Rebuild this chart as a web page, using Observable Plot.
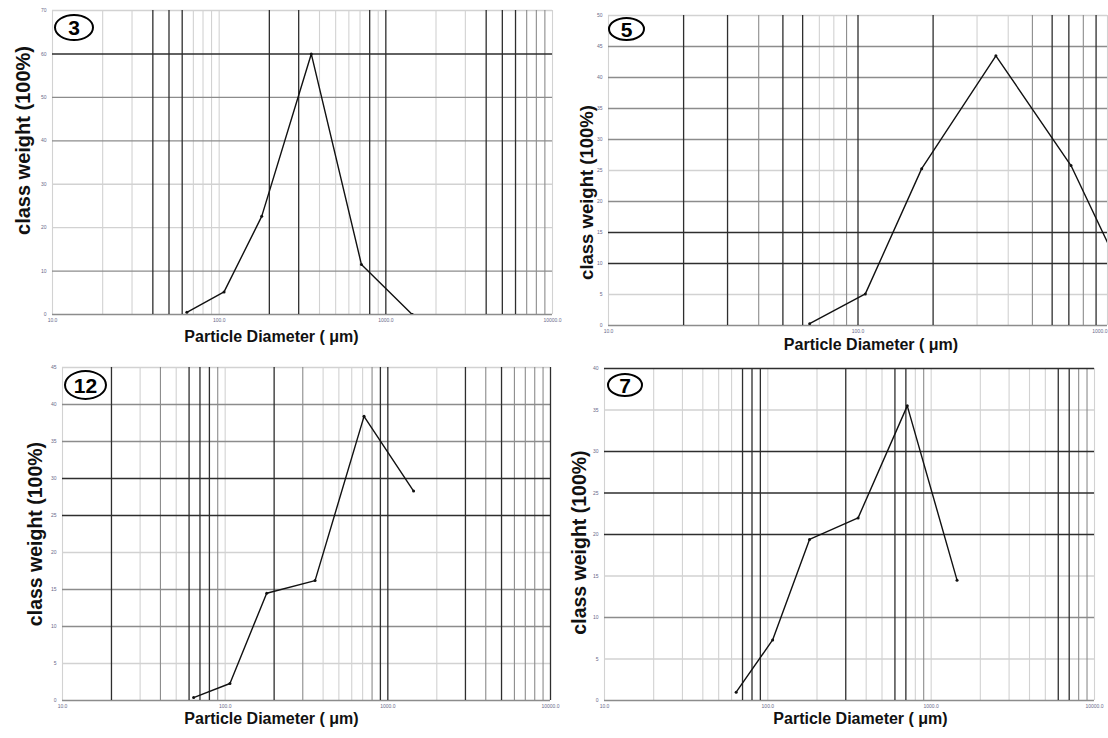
<!DOCTYPE html>
<html><head><meta charset="utf-8">
<script src="https://cdn.jsdelivr.net/npm/d3@7"></script>
<script src="https://cdn.jsdelivr.net/npm/@observablehq/plot@0.6"></script>
<style>
body{margin:0;background:#fff;}
#wrap{position:relative;width:1108px;height:738px;overflow:hidden;font-family:"Liberation Sans",Arial,sans-serif;background:#fff;}
.panel{position:absolute;}
.badge{position:absolute;border:2.6px solid #000;border-radius:50%;box-sizing:border-box;display:flex;align-items:center;justify-content:center;font-weight:bold;font-size:21px;line-height:1;color:#000;font-family:"Liberation Sans",Arial,sans-serif;}
</style></head><body><div id="wrap"></div>
<script>
// Sieve class sizes (µm) shared by all four samples
const sieveSizes = [64, 107, 180, 357, 714, 1440];
// Class weights (%) per sample
const weight3 = [0.5, 5.2, 22.6, 60, 11.5, 0];
const weight5 = [0.3, 5.1, 25.3, 43.5, 25.8, 0];
const weight12 = [0.4, 2.3, 14.5, 16.2, 38.4, 28.3];
const weight7 = [1.0, 7.3, 19.4, 22.0, 35.5, 14.5];
// Panel labels
const sampleIds = ["3", "5", "12", "7"];
const xTickLabels = [10, 100, 1000, 10000];
const xTitle = "Particle Diameter ( μm)";
const yTitle = "class weight (100%)";
// Gridlines that print dark / medium in each panel (the rest are light)
const darkX3 = [40, 50, 60, 200, 300, 800, 1000, 4000, 5000, 6000];
const medX3 = [7000, 8000, 9000];
const darkY3 = [60];
const medY3 = [0, 10, 40, 50];
const darkX5 = [20, 30, 50, 60, 100, 200, 600, 700, 900];
const medX5 = [40, 90, 500, 800];
const darkY5 = [10, 15];
const medY5 = [0, 20, 30, 35, 40, 45];
const darkX12 = [20, 60, 70, 80, 200, 900, 1000, 3000, 5000, 10000];
const medX12 = [40, 90, 300, 800, 4000, 6000, 7000, 8000, 9000];
const darkY12 = [25, 30];
const medY12 = [0, 10, 15, 35, 40];
const darkX7 = [70, 80, 90, 300, 600, 700, 6000, 7000];
const medX7 = [900, 8000, 9000];
const darkY7 = [20, 25, 30, 40];
const medY7 = [0, 10];

const panels = [
  {id: sampleIds[0], w: weight3, xMax: 10000, yMax: 70, yStep: 10, darkX: darkX3, medX: medX3, darkY: darkY3, medY: medY3,
   left: 0, top: 0, width: 554, height: 354, mL: 52, mR: 2, mT: 10, mB: 40,
   xdx: -31, xdy: 27, ydx: -29, ydy: -22, yfs: 20, badge: [54, 14, 40, 27]},
  {id: sampleIds[1], w: weight5, xMax: 1000, yMax: 50, yStep: 5, darkX: darkX5, medX: medX5, darkY: darkY5, medY: medY5,
   left: 554, top: 0, width: 554, height: 360, mL: 54, mR: 1, mT: 15, mB: 35,
   xdx: 13, xdy: 24, ydx: -21, ydy: 22, yfs: 18.5, badge: [608, 17, 37, 24]},
  {id: sampleIds[2], w: weight12, xMax: 10000, yMax: 45, yStep: 5, darkX: darkX12, medX: medX12, darkY: darkY12, medY: medY12,
   left: 0, top: 358, width: 554, height: 380, mL: 62, mR: 4, mT: 9, mB: 38,
   xdx: -35, xdy: 23, ydx: -27, ydy: 0, yfs: 19.5, badge: [64, 370, 43, 30]},
  {id: sampleIds[3], w: weight7, xMax: 10000, yMax: 40, yStep: 5, darkX: darkX7, medX: medX7, darkY: darkY7, medY: medY7,
   left: 554, top: 358, width: 554, height: 380, mL: 50, mR: 14, mT: 10, mB: 38,
   xdx: 11, xdy: 23, ydx: -25, ydy: 8, yfs: 19.5, badge: [607, 373, 36, 24]}
];

const wrap = document.getElementById("wrap");

function logGrid(xMax) {
  const g = [];
  for (let d = 10; d < xMax; d *= 10) for (let k = 1; k <= 9; k++) g.push(d * k);
  g.push(xMax);
  return g;
}

for (const p of panels) {
  const data = sieveSizes.map((s, i) => ({size: s, weight: p.w[i]}));
  const allX = logGrid(p.xMax);
  const lightX = allX.filter(v => !p.darkX.includes(v) && !p.medX.includes(v));
  const allY = d3.range(0, p.yMax + 0.001, p.yStep);
  const lightY = allY.filter(v => !p.darkY.includes(v) && !p.medY.includes(v));
  const xt = xTickLabels.filter(v => v <= p.xMax);
  const edgeRight = p.left + p.width - p.mR > 1100; // last label would run past the page edge
  const xtInner = edgeRight ? xt.slice(0, -1) : xt;
  const xtEdge = edgeRight ? xt.slice(-1) : [];
  const tickStyle = {tickSize: 0, tickPadding: 4, tickFormat: d => d.toFixed(1), fontSize: 5, fill: "#6a6a8a", label: null};

  const chart = Plot.plot({
    width: p.width, height: p.height,
    marginLeft: p.mL, marginRight: p.mR, marginTop: p.mT, marginBottom: p.mB,
    style: {fontFamily: '"Liberation Sans", Arial, sans-serif', background: "transparent"},
    x: {type: "log", domain: [10, p.xMax]},
    y: {domain: [0, p.yMax]},
    marks: [
      Plot.ruleX(lightX, {stroke: "#d2d2d2", strokeWidth: 1.1}),
      Plot.ruleY(lightY, {stroke: "#d2d2d2", strokeWidth: 1.4}),
      Plot.ruleX(p.medX, {stroke: "#8c8c8c", strokeWidth: 1.1}),
      Plot.ruleY(p.medY, {stroke: "#8c8c8c", strokeWidth: 1.3}),
      Plot.ruleX(p.darkX, {stroke: "#2e2e2e", strokeWidth: 1.3}),
      Plot.ruleY(p.darkY, {stroke: "#2e2e2e", strokeWidth: 1.4}),
      Plot.line(data, {x: "size", y: "weight", stroke: "#111", strokeWidth: 1.4, clip: true}),
      Plot.dot(data, {x: "size", y: "weight", r: 1.5, fill: "#111", clip: true}),
      Plot.axisX({ticks: xtInner, ...tickStyle}),
      xtEdge.length ? Plot.axisX({ticks: xtEdge, ...tickStyle, textAnchor: "end"}) : null,
      Plot.axisY({ticks: allY, tickSize: 0, tickPadding: 6, fontSize: 5, fill: "#6a6a8a", label: null}),
      Plot.text([xTitle], {frameAnchor: "bottom", textAnchor: "middle", dx: p.xdx, dy: p.xdy, fontSize: 16, fontWeight: "bold", fill: "#111"}),
      Plot.text([yTitle], {frameAnchor: "left", textAnchor: "middle", rotate: -90, dx: p.ydx, dy: p.ydy, fontSize: p.yfs, fontWeight: "bold", fill: "#111"})
    ]
  });
  chart.classList.add("panel");
  chart.style.left = p.left + "px";
  chart.style.top = p.top + "px";
  chart.style.overflow = "visible";
  wrap.appendChild(chart);

  const b = document.createElement("div");
  b.className = "badge";
  b.textContent = p.id;
  b.style.left = p.badge[0] + "px";
  b.style.top = p.badge[1] + "px";
  b.style.width = p.badge[2] + "px";
  b.style.height = p.badge[3] + "px";
  wrap.appendChild(b);
}
</script></body></html>
